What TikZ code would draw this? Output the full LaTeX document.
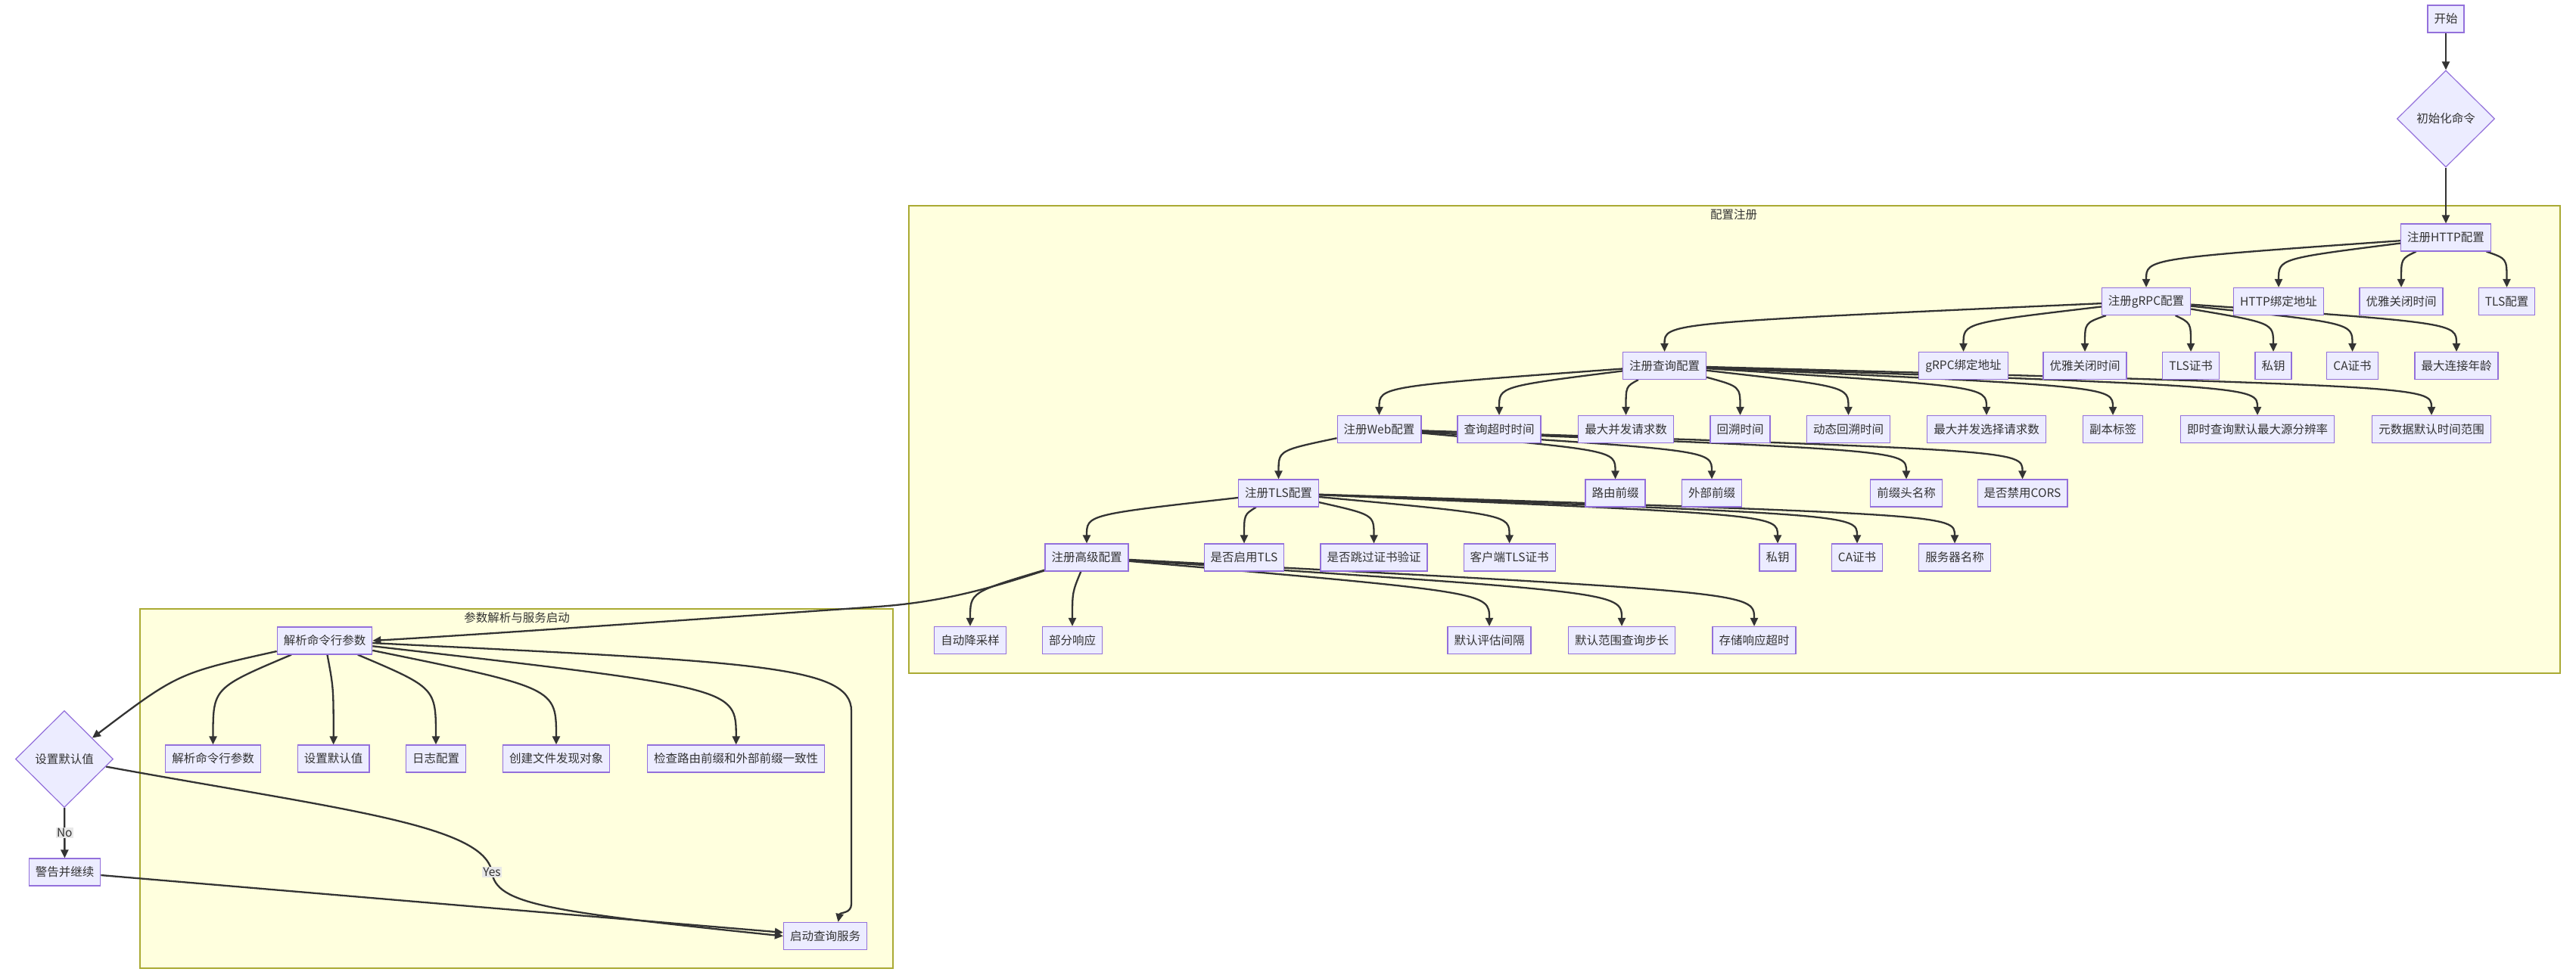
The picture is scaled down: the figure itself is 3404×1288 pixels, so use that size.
\documentclass[tikz,border=0pt]{standalone}
\usepackage{fontspec}
\usepackage{xcolor}
\usepackage{tikz}
\usetikzlibrary{shapes.geometric,arrows.meta,positioning,calc}
\newfontfamily\cjk{Noto Sans CJK SC}
\definecolor{mmlav}{RGB}{236, 236, 255}
\definecolor{mmpurple}{RGB}{147, 112, 219}
\definecolor{mmdark}{RGB}{51, 51, 51}
\definecolor{mmcream}{RGB}{255, 255, 222}
\definecolor{mmolive}{RGB}{170, 170, 51}
\definecolor{mmgrey}{RGB}{232, 232, 232}
\pgfdeclarelayer{frames}
\pgfdeclarelayer{links}
\pgfsetlayers{frames,links,main}
\tikzset{
  pbox/.style={draw=mmpurple,fill=mmlav,text=mmdark,line width=1.2pt,
               font=\cjk\fontsize{15.5pt}{18pt}\selectfont,
               minimum height=36pt,inner xsep=8.5pt,inner ysep=0pt},
  pdiam/.style={pbox,diamond,aspect=1,minimum width=129pt,minimum height=128pt,inner sep=0pt},
  grp/.style={draw=mmolive,fill=mmcream,line width=1.5pt,inner sep=0pt},
  grptitle/.style={text=mmdark,font=\cjk\fontsize{15.5pt}{18pt}\selectfont,inner sep=0pt},
  elabel/.style={fill=mmgrey,text=mmdark,font=\cjk\fontsize{15.5pt}{18pt}\selectfont,
                 inner xsep=1pt,inner ysep=1pt},
  arr/.style={-{Triangle[length=11pt,width=10pt]},line width=2.3pt,draw=mmdark},
  dropto/.style={to path={.. controls ($(\tikztotarget.north)+(0,-#1)$) .. (\tikztotarget.north) \tikztonodes}},
  dropto/.default=38,
}
\begin{document}
\begin{tikzpicture}[x=1pt,y=-1pt]
        \useasboundingbox (0,0) rectangle (3404,1288);
        % subgraph frames
        \begin{pgfonlayer}{frames}
        \node[grp,minimum width=2182pt,minimum height=618pt,anchor=north west] (regframe) at (1200,271) {};
        \node[grptitle] (regtitle) at (2291,284) {配置注册};
        \node[grp,minimum width=995pt,minimum height=475pt,anchor=north west] (runframe) at (184,804) {};
        \node[grptitle] (runtitle) at (683,817) {参数解析与服务启动};
        \end{pgfonlayer}
        % entry
        \node[pbox] (start) at (3232,25) {开始};
        \node[pdiam] (init) at (3232,157) {初始化命令};
        \node[pbox] (http) at (3232,314) {注册HTTP配置};
        % http level
        \node[pbox] (grpc)      at (2836,398.5) {注册gRPC配置};
        \node[pbox] (httpaddr)  at (3011,398.5) {HTTP绑定地址};
        \node[pbox] (httpgrace) at (3173,398.5) {优雅关闭时间};
        \node[pbox] (httptls)   at (3312.5,398.5) {TLS配置};
        % grpc level
        \node[pbox] (query)     at (2199.5,483.5) {注册查询配置};
        \node[pbox] (grpcaddr)  at (2594.5,483.5) {gRPC绑定地址};
        \node[pbox] (grpcgrace) at (2755,483.5) {优雅关闭时间};
        \node[pbox] (grpccert)  at (2895,483.5) {TLS证书};
        \node[pbox] (grpckey)   at (3004,483.5) {私钥};
        \node[pbox] (grpcca)    at (3108.5,483.5) {CA证书};
        \node[pbox] (grpcage)   at (3246,483.5) {最大连接年龄};
        % query level
        \node[pbox] (web)        at (1822.5,567.5) {注册Web配置};
        \node[pbox] (qtimeout)   at (1981,567.5) {查询超时时间};
        \node[pbox] (qmaxconc)   at (2148.5,567.5) {最大并发请求数};
        \node[pbox] (qlookback)  at (2299.5,567.5) {回溯时间};
        \node[pbox] (qdynlook)   at (2442.5,567.5) {动态回溯时间};
        \node[pbox] (qmaxsel)    at (2625,567.5) {最大并发选择请求数};
        \node[pbox] (qreplica)   at (2792,567.5) {副本标签};
        \node[pbox] (qinstres)   at (2983,567.5) {即时查询默认最大源分辨率};
        \node[pbox] (qmetarange) at (3213,567.5) {元数据默认时间范围};
        % web level
        \node[pbox] (tls)      at (1689.5,652) {注册TLS配置};
        \node[pbox] (webroute) at (2134.5,652) {路由前缀};
        \node[pbox] (webext)   at (2262,652) {外部前缀};
        \node[pbox] (webhdr)   at (2519,652) {前缀头名称};
        \node[pbox] (webcors)  at (2672.5,652) {是否禁用CORS};
        % tls level
        \node[pbox] (adv)     at (1436,737) {注册高级配置};
        \node[pbox] (tlsen)   at (1644,737) {是否启用TLS};
        \node[pbox] (tlsskip) at (1815.5,737) {是否跳过证书验证};
        \node[pbox] (tlscli)  at (1994.6,737) {客户端TLS证书};
        \node[pbox] (tlskey)  at (2349,737) {私钥};
        \node[pbox] (tlsca)   at (2454,737) {CA证书};
        \node[pbox] (tlssrv)  at (2583,737) {服务器名称};
        % advanced level
        \node[pbox] (advdown)  at (1282,846.5) {自动降采样};
        \node[pbox] (advpart)  at (1417,846.5) {部分响应};
        \node[pbox] (adveval)  at (1968,846.5) {默认评估间隔};
        \node[pbox] (advstep)  at (2143,846.5) {默认范围查询步长};
        \node[pbox] (advstore) at (2318,846.5) {存储响应超时};
        % parsing and startup
        \node[pbox] (parse)  at (429,847) {解析命令行参数};
        \node[pbox] (pargs)  at (281.5,1003) {解析命令行参数};
        \node[pbox] (pdef)   at (440.7,1003) {设置默认值};
        \node[pbox] (plog)   at (576,1003) {日志配置};
        \node[pbox] (pdisc)  at (735,1003) {创建文件发现对象};
        \node[pbox] (pcheck) at (972.7,1003) {检查路由前缀和外部前缀一致性};
        \node[pdiam] (dflt)  at (85,1003.5) {设置默认值};
        \node[pbox] (warn)   at (85.5,1153) {警告并继续};
        \node[pbox] (serve)  at (1090.5,1237.5) {启动查询服务};
        % connectors, kept under the boxes
        \begin{pgfonlayer}{links}
        \draw[arr](start)--(init);
        \draw[arr](init)--(http);
        \draw[arr](http) to[dropto] (grpc);
        \draw[arr](http) to[dropto] (httpaddr);
        \draw[arr](http) to[dropto] (httpgrace);
        \draw[arr](http) to[dropto] (httptls);
        \draw[arr](grpc) to[dropto] (query);
        \draw[arr](grpc) to[dropto] (grpcaddr);
        \draw[arr](grpc) to[dropto] (grpcgrace);
        \draw[arr](grpc) to[dropto] (grpccert);
        \draw[arr](grpc) to[dropto] (grpckey);
        \draw[arr](grpc) to[dropto] (grpcca);
        \draw[arr](grpc) to[dropto] (grpcage);
        \draw[arr](query) to[dropto] (web);
        \draw[arr](query) to[dropto] (qtimeout);
        \draw[arr](query) to[dropto] (qmaxconc);
        \draw[arr](query) to[dropto] (qlookback);
        \draw[arr](query) to[dropto] (qdynlook);
        \draw[arr](query) to[dropto] (qmaxsel);
        \draw[arr](query) to[dropto] (qreplica);
        \draw[arr](query) to[dropto] (qinstres);
        \draw[arr](query) to[dropto] (qmetarange);
        \draw[arr](web) to[dropto] (tls);
        \draw[arr](web) to[dropto] (webroute);
        \draw[arr](web) to[dropto] (webext);
        \draw[arr](web) to[dropto] (webhdr);
        \draw[arr](web) to[dropto] (webcors);
        \draw[arr](tls) to[dropto] (adv);
        \draw[arr](tls) to[dropto] (tlsen);
        \draw[arr](tls) to[dropto] (tlsskip);
        \draw[arr](tls) to[dropto] (tlscli);
        \draw[arr](tls) to[dropto] (tlskey);
        \draw[arr](tls) to[dropto] (tlsca);
        \draw[arr](tls) to[dropto] (tlssrv);
        \draw[arr](adv) to[dropto=45] (advdown);
        \draw[arr](adv) to[dropto=45] (advpart);
        \draw[arr](adv) to[dropto=45] (adveval);
        \draw[arr](adv) to[dropto=45] (advstep);
        \draw[arr](adv) to[dropto=45] (advstore);
        \draw[arr](adv) .. controls (1330,770) and (1260,795) .. (1160,802)
                        .. controls (900,820) and (650,838) .. (parse.east);
        \draw[arr](parse) .. controls (235,890) .. (dflt);
        \draw[arr](parse) to[dropto=75] (pargs);
        \draw[arr](parse) to[dropto=75] (pdef);
        \draw[arr](parse) to[dropto=75] (plog);
        \draw[arr](parse) to[dropto=75] (pdisc);
        \draw[arr](parse) to[dropto=75] (pcheck);
        \draw[arr](parse) .. controls (1000,875) and (1125,880) .. (1125,940) -- (1125,1195)
                          .. controls (1125,1208) and (1110,1206) .. ([xshift=17pt]serve.north);
        \draw[arr](dflt) -- node[elabel] (nolbl) {No} (warn);
        \draw[arr](dflt) .. controls (450,1070) and (640,1090) .. (650,1153) node[elabel] (yeslbl) {Yes}
                         .. controls (656,1195) and (720,1205) .. (serve.west);
        \draw[arr](warn) -- (serve);
        \end{pgfonlayer}
      \end{tikzpicture}
\end{document}
